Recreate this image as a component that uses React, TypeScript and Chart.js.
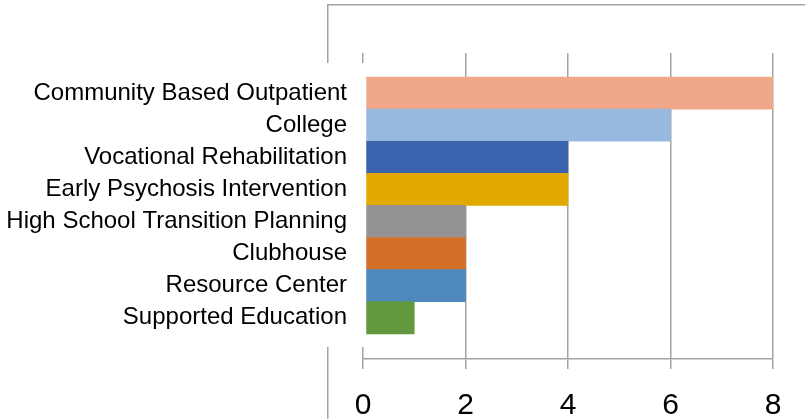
import React, { useEffect, useRef } from "react";
import { Chart, registerables } from "chart.js";

Chart.register(...registerables);

const categories: string[] = [
  "Community Based Outpatient",
  "College",
  "Vocational Rehabilitation",
  "Early Psychosis Intervention",
  "High School Transition Planning",
  "Clubhouse",
  "Resource Center",
  "Supported Education",
];
const counts: number[] = [8, 6, 4, 4, 2, 2, 2, 1];
const barColors: string[] = [
  "#F1A78A",
  "#97B9E0",
  "#3C64AE",
  "#E2AA00",
  "#939393",
  "#D46F2A",
  "#4F88BC",
  "#62993E",
];
const xTickValues: number[] = [0, 2, 4, 6, 8];

const GRID = "#a3a3a3";
const LW = 1.5;
const FONT = "'Liberation Sans', Arial, sans-serif";

const al = (p: number) => Math.round(p - LW / 2) + LW / 2;

const framePlugin = {
  id: "frame",
  beforeDraw(chart: any) {
    const ctx = chart.ctx;
    const a = chart.chartArea;
    ctx.save();
    ctx.strokeStyle = GRID;
    ctx.lineWidth = LW;
    const fx = al(328);
    const fy = al(5);
    ctx.beginPath();
    ctx.moveTo(fx, a.top + 10);
    ctx.lineTo(fx, fy);
    ctx.lineTo(chart.width, fy);
    ctx.moveTo(fx, a.bottom - 12);
    ctx.lineTo(fx, chart.height);
    ctx.stroke();
    ctx.restore();
  },
  afterDraw(chart: any) {
    const ctx = chart.ctx;
    const a = chart.chartArea;
    const xs = chart.scales.x;
    ctx.save();
    ctx.strokeStyle = GRID;
    ctx.lineWidth = LW;
    const x0 = al(xs.getPixelForValue(xTickValues[0]));
    ctx.beginPath();
    ctx.moveTo(x0, a.top);
    ctx.lineTo(x0, a.top + 10);
    ctx.moveTo(x0, a.bottom - 12);
    ctx.lineTo(x0, a.bottom);
    ctx.stroke();
    ctx.restore();
  },
};

export default function App() {
  const ref = useRef<HTMLCanvasElement | null>(null);
  useEffect(() => {
    if (!ref.current) return;
    const chart = new Chart(ref.current, {
      type: "bar",
      data: {
        datasets: [
          {
            data: counts.map((v, i) => ({ x: v, y: i })) as any,
            backgroundColor: barColors,
            borderWidth: 0,
            barPercentage: 1,
            categoryPercentage: 1,
            base: 0.07,
          } as any,
        ],
      },
      options: {
        indexAxis: "y",
        animation: false,
        responsive: false,
        devicePixelRatio: 1,
        layout: { padding: { top: 53, right: 32, bottom: 0, left: 0 } },
        plugins: {
          legend: { display: false },
          tooltip: { enabled: false },
          title: { display: false },
        },
        scales: {
          x: {
            type: "linear",
            position: "bottom",
            min: 0,
            max: 8,
            afterBuildTicks: (s: any) => {
              s.ticks = xTickValues.map((v) => ({ value: v }));
            },
            afterFit: (s: any) => {
              s.height = 60;
            },
            grid: {
              color: (c: any) => (c.tick && c.tick.value === 0 ? "rgba(0,0,0,0)" : GRID),
              tickColor: GRID,
              tickLength: 10,
              lineWidth: LW,
              tickWidth: LW,
            },
            border: { display: true, color: GRID, width: LW },
            ticks: {
              color: "#000",
              font: { family: FONT, size: 30 },
              padding: 19,
              maxRotation: 0,
            },
          },
          y: {
            type: "linear",
            reverse: true,
            offset: false,
            min: -1.248,
            max: 8.285,
            afterBuildTicks: (s: any) => {
              s.ticks = categories.map((_, i) => ({ value: i }));
            },
            afterFit: (s: any) => {
              s.width = 363;
            },
            grid: { display: false, drawTicks: false },
            border: { display: false },
            ticks: {
              color: "#000",
              font: { family: FONT, size: 24 },
              padding: 16,
              autoSkip: false,
              callback: (v: any) => categories[v as number] ?? "",
            },
          },
        },
      } as any,
      plugins: [framePlugin],
    });
    return () => chart.destroy();
  }, []);
  return (
    <div style={{ position: "fixed", left: 0, top: 0, width: 805, height: 419, background: "#fff" }}>
      <canvas ref={ref} width={805} height={419} style={{ display: "block" }} />
    </div>
  );
}
